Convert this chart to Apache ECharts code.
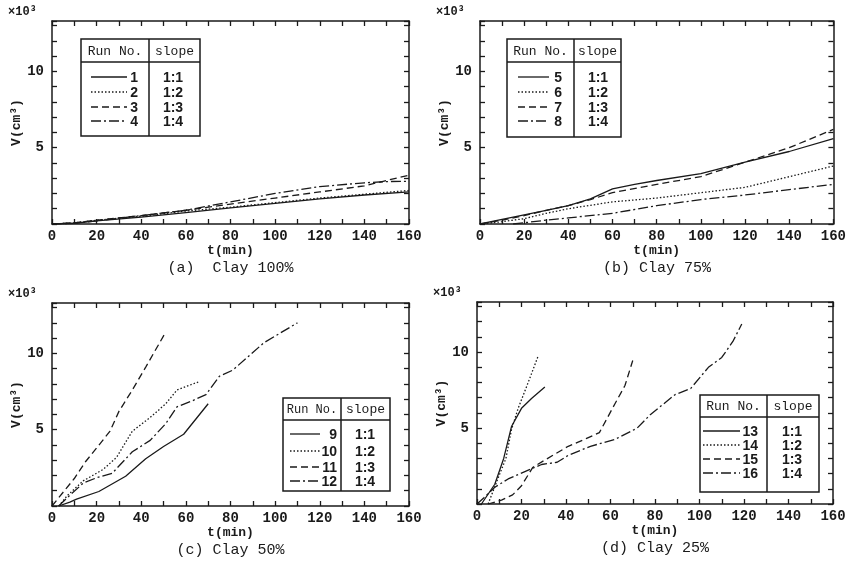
<!DOCTYPE html>
<html>
<head>
<meta charset="utf-8">
<script src="https://cdn.jsdelivr.net/npm/echarts@6/dist/echarts.min.js"></script>
<style>
  html, body { margin: 0; padding: 0; background: #fff; }
  #chart { width: 849px; height: 563px; }
</style>
</head>
<body>
<div id="chart"></div>
<script>
// values are [t (min), V (x10^3 cm^3)]
// (a) Clay 100%
const run1 = [[0, 0], [10, 0.05], [20, 0.2], [40, 0.45], [60, 0.75], [80, 1.05], [100, 1.35], [120, 1.65], [140, 1.9], [160, 2.1]];
const run2 = [[0, 0], [10, 0.07], [20, 0.25], [40, 0.5], [60, 0.85], [80, 1.1], [100, 1.4], [120, 1.7], [140, 1.95], [160, 2.2]];
const run3 = [[0, 0], [10, 0.08], [20, 0.25], [40, 0.55], [60, 0.9], [80, 1.3], [100, 1.7], [120, 2.1], [140, 2.5], [150, 2.85], [160, 3.2]];
const run4 = [[0, 0], [10, 0.05], [20, 0.2], [40, 0.55], [60, 0.9], [80, 1.45], [100, 2.0], [120, 2.45], [140, 2.7], [150, 2.78], [160, 2.8]];
// (b) Clay 75%
const run5 = [[0, 0], [10, 0.3], [20, 0.6], [30, 0.9], [40, 1.2], [50, 1.65], [60, 2.3], [70, 2.6], [80, 2.85], [100, 3.3], [120, 4.05], [140, 4.75], [160, 5.6]];
const run6 = [[0, 0], [10, 0.15], [20, 0.35], [30, 0.7], [40, 1.0], [60, 1.45], [80, 1.7], [100, 2.05], [120, 2.4], [140, 3.1], [160, 3.8]];
const run7 = [[0, 0], [10, 0.25], [20, 0.55], [30, 0.9], [40, 1.2], [50, 1.6], [60, 2.05], [80, 2.6], [100, 3.1], [120, 4.05], [140, 5.0], [160, 6.2]];
const run8 = [[15, 0], [30, 0.25], [40, 0.4], [60, 0.7], [80, 1.2], [100, 1.6], [120, 1.9], [140, 2.25], [160, 2.6]];
// (c) Clay 50%
const run9 = [[3, 0], [8, 0.25], [11, 0.45], [21, 0.95], [33, 1.95], [42, 3.1], [50, 3.9], [59, 4.7], [70, 6.7]];
const run10 = [[3, 0], [7, 0.7], [14, 1.65], [23, 2.4], [29, 3.2], [36, 4.9], [44, 5.8], [51, 6.7], [56, 7.6], [66, 8.15]];
const run11 = [[0, 0], [5, 0.9], [10, 1.8], [15, 2.9], [20, 3.8], [26, 4.9], [30, 6.2], [36, 7.6], [42, 9.1], [51, 11.4]];
const run12 = [[3, 0], [8, 0.7], [14, 1.5], [20, 1.85], [27, 2.15], [36, 3.55], [44, 4.3], [51, 5.4], [56, 6.5], [63, 6.9], [69, 7.3], [75, 8.5], [81, 8.9], [88, 9.8], [95, 10.7], [110, 12.0]];
// (d) Clay 25%
const run13 = [[2, 0], [8, 1.3], [12, 3.0], [15.5, 5.1], [20, 6.3], [24.5, 6.95], [30.5, 7.7]];
const run14 = [[5, 0], [9.6, 1.75], [13, 3.0], [15.5, 4.9], [18.5, 6.3], [23, 8.0], [27.5, 9.75]];
const run15 = [[5, 0], [11, 0.26], [16, 0.6], [20, 1.2], [25, 2.4], [30, 2.85], [41, 3.8], [49, 4.3], [55, 4.7], [62, 6.6], [66.5, 7.8], [70, 9.45]];
const run16 = [[0, 0], [3, 0.4], [8, 1.1], [14, 1.65], [21, 2.1], [29, 2.6], [36, 2.75], [41, 3.2], [51, 3.8], [62, 4.25], [72, 5.0], [78, 5.9], [89, 7.2], [96, 7.6], [104, 9.0], [110, 9.65], [115, 10.7], [119, 11.85]];

const panelRuns = [[run1, run2, run3, run4], [run5, run6, run7, run8], [run9, run10, run11, run12], [run13, run14, run15, run16]];
const runLabels = [['1', '2', '3', '4'], ['5', '6', '7', '8'], ['9', '10', '11', '12'], ['13', '14', '15', '16']];
const slopeLabels = ['1:1', '1:2', '1:3', '1:4'];
const captions = ['(a)  Clay 100%', '(b) Clay 75%', '(c) Clay 50%', '(d) Clay 25%'];

const ink = '#1a1a1a';
const mono = "'Liberation Mono', 'DejaVu Sans Mono', monospace";
const sans = '"Liberation Sans", Arial, sans-serif';
const dashes = ['solid', [1.5, 2], [7, 4], [10, 3, 2, 3]];

const grids = [
  { left: 52, top: 21, width: 357, height: 203 },
  { left: 480, top: 21, width: 354, height: 203 },
  { left: 52, top: 303, width: 357, height: 203 },
  { left: 477, top: 302, width: 356, height: 202 }
];

// legend tables: box, divider, header height, row centres, line/number/slope x (relative)
const tables = [
  { x: 81, y: 39, w: 119, h: 97, div: 68, head: 23, hf: 13, rows: [38, 53, 68, 82], lx: [10, 46], nx: 57, sx: 92 },
  { x: 507, y: 39, w: 114, h: 98, div: 67, head: 23, hf: 13, rows: [38, 53, 68, 82], lx: [11, 42], nx: 55, sx: 91 },
  { x: 283, y: 398, w: 107, h: 93, div: 58, head: 22, hf: 12, rows: [36, 53, 69, 83], lx: [7, 37], nx: 54, sx: 82 },
  { x: 700, y: 395, w: 119, h: 97, div: 67, head: 22, hf: 13, rows: [36, 50, 64, 78], lx: [3, 40], nx: 58, sx: 92 }
];

const xAxis = [], yAxis = [], series = [], graphic = [];

grids.forEach((g, i) => {
  const xBase = {
    gridIndex: i, type: 'value', min: 0, max: 160, interval: 10,
    splitLine: { show: false },
    axisLine: { onZero: false, lineStyle: { color: ink, width: 1.5 } },
    axisTick: { inside: true, length: 5, lineStyle: { color: ink, width: 1.3 } }
  };
  xAxis.push({
    ...xBase, position: 'bottom',
    name: 't(min)', nameLocation: 'middle', nameGap: 19,
    nameTextStyle: { color: ink, fontFamily: mono, fontSize: 13, fontWeight: 'bold' },
    axisLabel: { margin: 5, color: ink, fontFamily: mono, fontSize: 14, fontWeight: 'bold',
      formatter: v => (v % 20 === 0 ? String(v) : '') }
  });
  xAxis.push({ ...xBase, position: 'top', axisLabel: { show: false } });

  const yBase = {
    gridIndex: i, type: 'value', min: 0, max: 13.3, interval: 1,
    splitLine: { show: false },
    axisLine: { show: true, onZero: false, lineStyle: { color: ink, width: 1.5 } },
    axisTick: { show: true, inside: true, length: 5, lineStyle: { color: ink, width: 1.3 } }
  };
  yAxis.push({
    ...yBase, position: 'left',
    name: 'V(cm³)', nameLocation: 'middle', nameGap: 29, nameRotate: 90,
    nameTextStyle: { color: ink, fontFamily: mono, fontSize: 13, fontWeight: 'bold' },
    axisLabel: { margin: 8, color: ink, fontFamily: mono, fontSize: 14, fontWeight: 'bold',
      formatter: v => (v === 5 || v === 10 ? String(v) : '') }
  });
  yAxis.push({ ...yBase, position: 'right', axisLabel: { show: false } });

  panelRuns[i].forEach((run, k) => {
    series.push({
      name: 'Run ' + runLabels[i][k],
      type: 'line',
      xAxisIndex: 2 * i, yAxisIndex: 2 * i,
      data: run,
      symbol: 'none',
      lineStyle: { color: ink, width: 1.3, type: dashes[k] }
    });
  });

  // x10^3 marker and caption
  graphic.push({
    type: 'text', x: g.left - 44, y: g.top - 9,
    style: { text: '×10³', font: 'bold 12px ' + mono, fill: ink, align: 'left', verticalAlign: 'middle' }
  });
  graphic.push({
    type: 'text', x: g.left + g.width / 2, y: g.top + g.height + 44,
    style: { text: captions[i], font: '15px ' + mono, fill: ink, align: 'center', verticalAlign: 'middle' }
  });

  // legend table
  const t = tables[i];
  const cell = { stroke: ink, lineWidth: 1.5 };
  graphic.push({ type: 'rect', shape: { x: t.x, y: t.y, width: t.w, height: t.h }, style: { fill: '#fff', ...cell }, z: 10 });
  graphic.push({ type: 'line', shape: { x1: t.x + t.div, y1: t.y, x2: t.x + t.div, y2: t.y + t.h }, style: cell, z: 11 });
  graphic.push({ type: 'line', shape: { x1: t.x, y1: t.y + t.head, x2: t.x + t.w, y2: t.y + t.head }, style: cell, z: 11 });
  graphic.push({
    type: 'text', x: t.x + t.div / 2, y: t.y + t.head / 2 + 1, z: 11,
    style: { text: 'Run No.', font: t.hf + 'px ' + mono, fill: ink, align: 'center', verticalAlign: 'middle' }
  });
  graphic.push({
    type: 'text', x: t.x + (t.div + t.w) / 2, y: t.y + t.head / 2 + 1, z: 11,
    style: { text: 'slope', font: '13px ' + mono, fill: ink, align: 'center', verticalAlign: 'middle' }
  });
  t.rows.forEach((ry, k) => {
    const dash = dashes[k];
    graphic.push({
      type: 'line', z: 11,
      shape: { x1: t.x + t.lx[0], y1: t.y + ry, x2: t.x + t.lx[1], y2: t.y + ry },
      style: { stroke: ink, lineWidth: 1.3, lineDash: dash === 'solid' ? null : dash }
    });
    graphic.push({
      type: 'text', x: t.x + t.nx, y: t.y + ry + 1, z: 11,
      style: { text: runLabels[i][k], font: 'bold 14px ' + sans, fill: ink, align: 'right', verticalAlign: 'middle' }
    });
    graphic.push({
      type: 'text', x: t.x + t.sx, y: t.y + ry + 1, z: 11,
      style: { text: slopeLabels[k], font: 'bold 14px ' + sans, fill: ink, align: 'center', verticalAlign: 'middle' }
    });
  });
});

const chart = echarts.init(document.getElementById('chart'));
chart.setOption({
  animation: false,
  backgroundColor: '#fff',
  grid: grids,
  xAxis: xAxis,
  yAxis: yAxis,
  series: series,
  graphic: graphic
});
</script>
</body>
</html>
